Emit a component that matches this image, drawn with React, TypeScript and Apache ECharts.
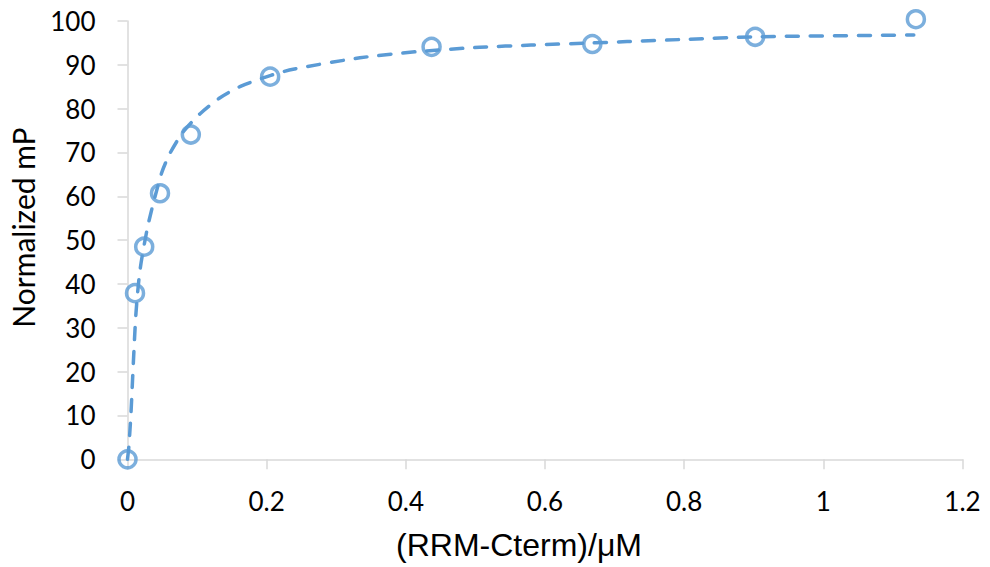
import React, { useEffect, useRef } from "react";
import * as echarts from "echarts";

// Measured points
const pointX = [0, 0.0108, 0.024, 0.0467, 0.091, 0.205, 0.437, 0.668, 0.902, 1.133];
const pointY = [0, 37.9, 48.5, 60.7, 74.1, 87.3, 94.1, 94.75, 96.4, 100.4];

// Fitted curve
const curveX = [0, 0.002, 0.005, 0.0084, 0.0122, 0.018, 0.03, 0.049, 0.061, 0.08, 0.104, 0.133, 0.164, 0.206, 0.238, 0.334, 0.416, 0.506, 0.58, 0.668, 0.718, 0.8, 0.902, 1.13];
const curveY = [0, 3, 10.6, 22, 33.4, 43.2, 53.8, 65.3, 69.8, 74.7, 78.8, 82.5, 85.2, 87.6, 89.0, 91.6, 93.0, 94.0, 94.5, 95.0, 95.3, 95.8, 96.4, 96.8];

const xTitle = "(RRM-Cterm)/\u03bcM";
const yTitle = "Normalized mP";

const BLUE = "#5b9bd5";
const AXIS = "#d9d9d9";

export default function App() {
  const ref = useRef<HTMLDivElement>(null);
  useEffect(() => {
    if (!ref.current) return;
    const chart = echarts.init(ref.current, undefined, { renderer: "svg" });
    const fmt = (v: number) => String(+v.toFixed(1));
    chart.setOption({
      animation: false,
      backgroundColor: "#ffffff",
      grid: { left: 127.5, right: 27.5, top: 21, bottom: 107.7, containLabel: false },
      xAxis: {
        type: "value",
        min: 0,
        max: 1.2,
        interval: 0.2,
        splitLine: { show: false },
        axisLine: { show: true, lineStyle: { color: AXIS, width: 1.5 } },
        axisTick: { show: true, length: 10, lineStyle: { color: AXIS, width: 1.5 } },
        axisLabel: { margin: 29, fontSize: 26, fontFamily: "Lato", color: "#000", formatter: fmt },
      },
      yAxis: {
        type: "value",
        min: 0,
        max: 100,
        interval: 10,
        splitLine: { show: false },
        axisLine: { show: true, lineStyle: { color: AXIS, width: 1.5 } },
        axisTick: { show: true, length: 10, lineStyle: { color: AXIS, width: 1.5 } },
        axisLabel: { margin: 32, fontSize: 26, fontFamily: "Lato", color: "#000" },
      },
      series: [
        {
          type: "line",
          data: curveX.map((x, i) => [x, curveY[i]]),
          showSymbol: false,
          smooth: 0.25,
          clip: false,
          lineStyle: { color: BLUE, width: 3.5, type: [12, 12], cap: "round" },
          z: 2,
        },
        {
          type: "scatter",
          data: pointX.map((x, i) => [x, pointY[i]]),
          symbol: "circle",
          symbolSize: 17,
          clip: false,
          itemStyle: { color: "rgba(255,255,255,0)", borderColor: BLUE, borderWidth: 3.5 },
          z: 3,
        },
      ],
      graphic: [
        {
          type: "text",
          x: 519,
          y: 545,
          style: {
            text: xTitle,
            fontSize: 32,
            fontFamily: "Liberation Sans",
            fill: "#000",
            align: "center",
            verticalAlign: "middle",
          },
        },
        {
          type: "text",
          x: 23,
          y: 227.5,
          rotation: Math.PI / 2,
          style: {
            text: yTitle,
            fontSize: 30,
            fontFamily: "Lato",
            fill: "#000",
            align: "center",
            verticalAlign: "middle",
          },
        },
      ],
    });
    return () => chart.dispose();
  }, []);
  return (
    <div
      ref={ref}
      style={{ position: "fixed", left: 0, top: 0, width: 990, height: 567, background: "#fff" }}
    />
  );
}
